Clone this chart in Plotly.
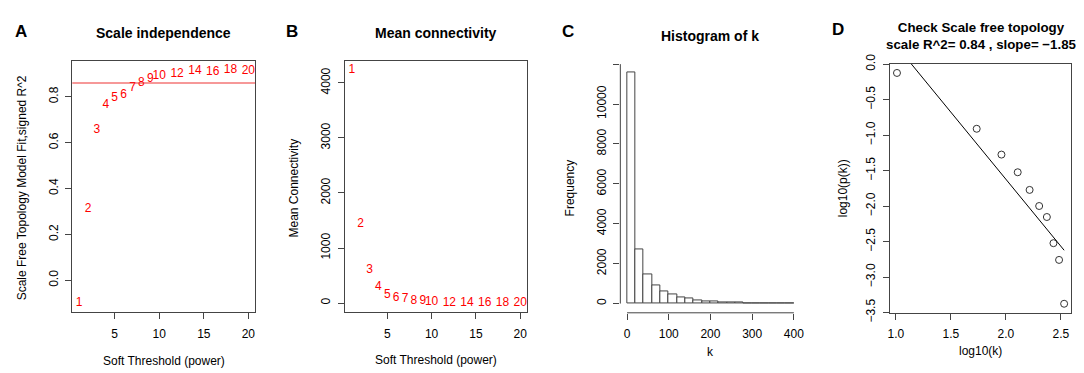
import plotly.graph_objects as go

# ---------------- data ----------------
powers = [1, 2, 3, 4, 5, 6, 7, 8, 9, 10, 12, 14, 16, 18, 20]
sft_r2 = [-0.099, 0.311, 0.656, 0.762, 0.796, 0.806, 0.837, 0.862, 0.879, 0.891,
          0.898, 0.913, 0.909, 0.917, 0.912]
mean_k = [4235, 1435, 603, 287, 155, 98, 69, 46, 29, 17, 8, 5, 3, 2, 1]
r2_cut = 0.86

hist_left = list(range(0, 400, 20))
hist_counts = [11572, 2707, 1439, 888, 603, 442, 332, 252, 176, 128,
               95, 70, 55, 40, 30, 22, 15, 10, 6, 3]
hist_binwidth = 20
hist_xticks = [0, 100, 200, 300, 400]
hist_yticks = [0, 2000, 4000, 6000, 8000, 10000, 12000]
hist_yticklabels = ["0", "2000", "4000", "6000", "8000", "10000", ""]

log_k = [1.01, 1.735, 1.96, 2.108, 2.216, 2.303, 2.373, 2.433, 2.484, 2.530]
log_pk = [-0.122, -0.909, -1.273, -1.522, -1.771, -1.998, -2.153, -2.522, -2.758, -3.376]
fit_intercept = 2.16
fit_slope = -1.89

titles = ["Scale independence", "Mean connectivity", "Histogram of k",
          "Check Scale free topology<br>scale R^2= 0.84 , slope= \u22121.85"]
letters = ["A", "B", "C", "D"]

# ---------------- layout helpers ----------------
W, H = 1084, 373
FONT = "Liberation Sans, Arial, sans-serif"
AX = "#444444"


def xd(l, r):
    return [l / W, r / W]


def yd(top, bottom):
    return [1 - bottom / H, 1 - top / H]


def rrange(vals):
    lo, hi = min(vals), max(vals)
    pad = 0.04 * (hi - lo)
    return [lo - pad, hi + pad]


def ann(text, x, y, size=12, bold=False, angle=0, color="black"):
    if bold:
        text = "<b>" + text + "</b>"
    return dict(text=text, x=x / W, y=1 - y / H, xref="paper", yref="paper",
                xanchor="center", yanchor="middle", showarrow=False,
                textangle=angle, font=dict(family=FONT, size=size, color=color))


fig = go.Figure()

# A
fig.add_trace(go.Scatter(x=powers, y=sft_r2, mode="text", text=[str(p) for p in powers],
                         textfont=dict(family=FONT, size=12, color="red"),
                         cliponaxis=False, xaxis="x", yaxis="y", showlegend=False))
# B
fig.add_trace(go.Scatter(x=powers, y=mean_k, mode="text", text=[str(p) for p in powers],
                         textfont=dict(family=FONT, size=12, color="red"),
                         cliponaxis=False, xaxis="x2", yaxis="y2", showlegend=False))
# C
fig.add_trace(go.Bar(x=[l + hist_binwidth / 2 for l in hist_left], y=hist_counts,
                     width=hist_binwidth, marker=dict(color="white", line=dict(color=AX, width=1)),
                     xaxis="x3", yaxis="y3", showlegend=False))
# D
fig.add_trace(go.Scatter(x=log_k, y=log_pk, mode="markers",
                         marker=dict(symbol="circle-open", size=7, color="#333333", line=dict(width=1)),
                         xaxis="x4", yaxis="y4", showlegend=False))
fit_x = [log_k[0], log_k[-1]]
fig.add_trace(go.Scatter(x=fit_x, y=[fit_intercept + fit_slope * v for v in fit_x], mode="lines",
                         line=dict(color="black", width=1), xaxis="x4", yaxis="y4", showlegend=False))

tickfont = dict(family=FONT, size=12, color="black")
common = dict(showgrid=False, zeroline=False, ticks="outside", ticklen=6, tickcolor=AX,
              tickwidth=1, tickfont=tickfont, linecolor=AX, linewidth=1)

pxr = rrange(powers)
fig.update_layout(
    width=W, height=H, margin=dict(l=0, r=0, t=0, b=0),
    plot_bgcolor="white", paper_bgcolor="white",
    xaxis=dict(domain=xd(61.7, 245.7), range=pxr, tickvals=[5, 10, 15, 20], showline=True,
               mirror=True, anchor="y", ticklabelstandoff=4, **common),
    yaxis=dict(domain=yd(45, 311), range=rrange(sft_r2), tickvals=[0, 0.2, 0.4, 0.6, 0.8],
               ticktext=["0.0", "0.2", "0.4", "0.6", "0.8"], tickangle=-90, showline=True,
               mirror=True, anchor="x", ticklabelstandoff=3, **common),
    xaxis2=dict(domain=xd(336.3, 519.3), range=pxr, tickvals=[5, 10, 15, 20], showline=True,
                mirror=True, anchor="y2", ticklabelstandoff=4, **common),
    yaxis2=dict(domain=yd(45, 311), range=rrange(mean_k), tickvals=[0, 1000, 2000, 3000, 4000],
                tickangle=-90, showline=True, mirror=True, anchor="x2", ticklabelstandoff=3, **common),
    xaxis3=dict(domain=xd(613.3, 794.7), range=rrange([0, 400]), tickvals=hist_xticks,
                showline=False, anchor="y3", ticklabelstandoff=4, **common),
    yaxis3=dict(domain=yd(48, 311.5), range=rrange([0] + hist_counts), tickvals=hist_yticks,
                ticktext=hist_yticklabels, tickangle=-90, showline=False, anchor="x3",
                ticklabelstandoff=3, **common),
    xaxis4=dict(domain=xd(885, 1066.7), range=rrange(log_k), tickvals=[1.0, 1.5, 2.0, 2.5],
                ticktext=["1.0", "1.5", "2.0", "2.5"], showline=True, mirror=True, anchor="y4",
                ticklabelstandoff=4, **common),
    yaxis4=dict(domain=yd(48.3, 311.7), range=rrange(log_pk),
                tickvals=[0, -0.5, -1, -1.5, -2, -2.5, -3, -3.5],
                ticktext=["0.0", "\u22120.5", "\u22121.0", "\u22121.5", "\u22122.0", "\u22122.5",
                          "\u22123.0", "\u22123.5"],
                tickangle=-90, showline=True, mirror=True, anchor="x4", ticklabelstandoff=3, **common),
    bargap=0,
)

# threshold line in A, axis lines of histogram C
fig.add_shape(type="line", xref="x domain", yref="y", x0=0, x1=1, y0=r2_cut, y1=r2_cut,
              line=dict(color="#ee3333", width=1.2))
fig.add_shape(type="line", xref="x3", yref="y3 domain", x0=min(hist_xticks), x1=max(hist_xticks),
              y0=0, y1=0, line=dict(color=AX, width=1))
fig.add_shape(type="line", xref="x3 domain", yref="y3", x0=0, x1=0, y0=min(hist_yticks),
              y1=max(hist_yticks), line=dict(color=AX, width=1))

annots = [
    ann(titles[0], 153.7, 16, 14, True),
    ann(titles[1], 428, 16, 14, True),
    ann(titles[2], 704, 18.5, 14, True),
    ann(titles[3], 977, 18.7, 13.3, True),
    ann(letters[0], 10.5, 14.7, 17, True),
    ann(letters[1], 282.5, 13.8, 17, True),
    ann(letters[2], 560.8, 14.2, 17, True),
    ann(letters[3], 832.5, 12.5, 17, True),
    ann("Soft Threshold (power)", 153.7, 362.7),
    ann("Soft Threshold (power)", 428, 361.7),
    ann("k", 704, 353.3),
    ann("log10(k)", 975.8, 351.7),
    ann("Scale Free Topology Model Fit,signed R^2", 11, 179, angle=-90),
    ann("Mean Connectivity", 285, 180, angle=-90),
    ann("Frequency", 562.7, 180, angle=-90),
    ann("log10(p(k))", 837.3, 180, angle=-90),
]
fig.update_layout(annotations=annots)

fig.write_html("out.html")
